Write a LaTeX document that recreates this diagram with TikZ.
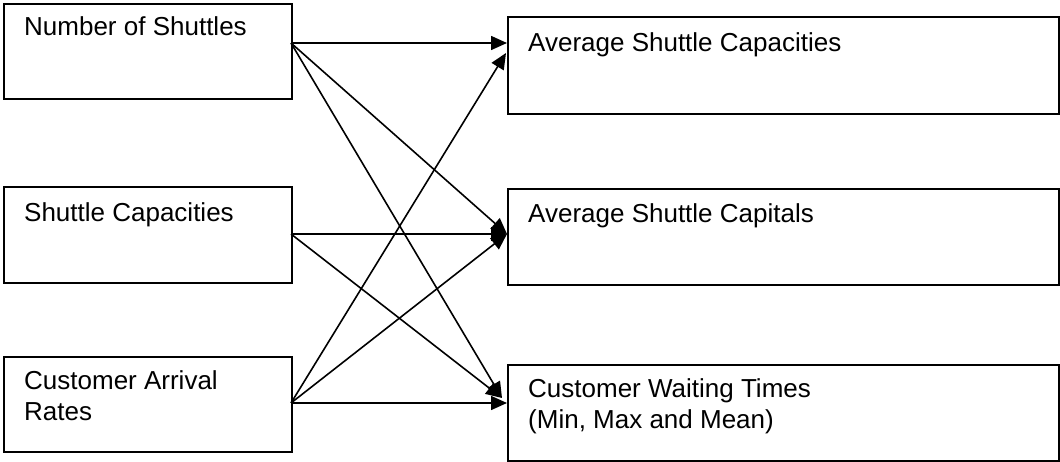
\documentclass[tikz,border=0pt]{standalone}
\usepackage{fontspec}
\setmainfont{Liberation Sans}
\usetikzlibrary{arrows.meta}
\begin{document}
\begin{tikzpicture}[x=1pt,y=-1pt,
  box/.style={draw, line width=2pt, rectangle, inner sep=0pt, anchor=north west},
  lbl/.style={anchor=base west, inner sep=0pt, font=\fontsize{26}{31}\selectfont, align=left},
  arr/.style={line width=1.6pt, -{Triangle[length=16pt,width=14pt]}}]
\useasboundingbox (0,0) rectangle (1060,462);
% left boxes
\node[box, minimum width=288pt, minimum height=95pt] (L1) at (3,3) {};
\node[box, minimum width=288pt, minimum height=96pt] (L2) at (3,186) {};
\node[box, minimum width=288pt, minimum height=95pt] (L3) at (3,356) {};
% right boxes
\node[box, minimum width=551pt, minimum height=97pt] (R1) at (507,16) {};
\node[box, minimum width=551pt, minimum height=96pt] (R2) at (507,188) {};
\node[box, minimum width=551pt, minimum height=96pt] (R3) at (507,364) {};
% labels
\node[lbl] (t1) at (24,36) {Number of Shuttles};
\node[lbl] (t2) at (24,222) {Shuttle Capacities};
\node[lbl] (t3) at (24,420) {Customer Arrival\\Rates};
\node[lbl] (t4) at (528,52) {Average Shuttle Capacities};
\node[lbl] (t5) at (528,223) {Average Shuttle Capitals};
\node[lbl] (t6) at (528,428) {Customer Waiting Times\\(Min, Max and Mean)};
% connector ends
\coordinate (o1) at (291,43);
\coordinate (o2) at (291,234);
\coordinate (o3) at (291,403);
\coordinate (i1a) at (507,43);
\coordinate (i1b) at (506,53);
\coordinate (i2) at (507,234);
\coordinate (i3a) at (502,398);
\coordinate (i3b) at (507,403);
% arrows
\draw[arr] (o1) -- (i1a);
\draw[arr] (o1) -- (i2);
\draw[arr] (o1) -- (i3a);
\draw[arr] (o2) -- (i2);
\draw[arr] (o2) -- (i3a);
\draw[arr] (o3) -- (i1b);
\draw[arr] (o3) -- (i2);
\draw[arr] (o3) -- (i3b);
\end{tikzpicture}
\end{document}
